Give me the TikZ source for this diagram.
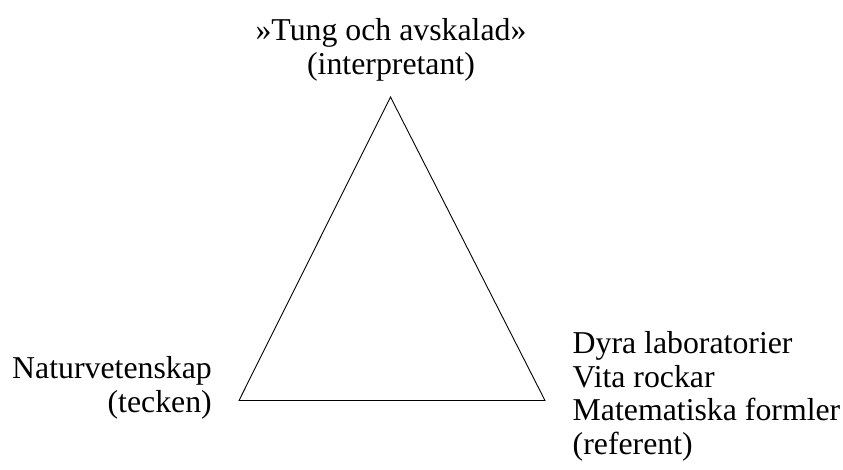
\documentclass[tikz,border=0pt]{standalone}
\usepackage{fontspec}
\setmainfont{Liberation Serif}
\usepackage{tikz}
\usetikzlibrary{positioning}

\begin{document}
\begin{tikzpicture}[x=1pt, y=-1pt,
    corner label/.style={inner sep=0pt, font=\fontsize{31.8}{33.5}\selectfont},
    triangle line/.style={draw=black, line width=0.9pt}]
            \useasboundingbox (0,0) rectangle (843,469);
            % corners of the triangle
            \coordinate (interp) at (390.5,97);
            \coordinate (sign) at (239,400.5);
            \coordinate (referent) at (545,400.5);
            \draw[triangle line] (sign) -- (interp) -- (referent) -- cycle;
            % labels (base = baseline of the last line)
            \node[corner label, align=center, anchor=base] (interplabel) at (391,74)
                {»Tung och avskalad»\\(interpretant)};
            \node[corner label, align=right, anchor=base east] (signlabel) at (212,412)
                {Naturvetenskap\\(tecken)};
            \node[corner label, align=left, anchor=base west] (reflabel) at (572.5,454)
                {Dyra laboratorier\\Vita rockar\\Matematiska formler\\(referent)};
        \end{tikzpicture}
\end{document}
